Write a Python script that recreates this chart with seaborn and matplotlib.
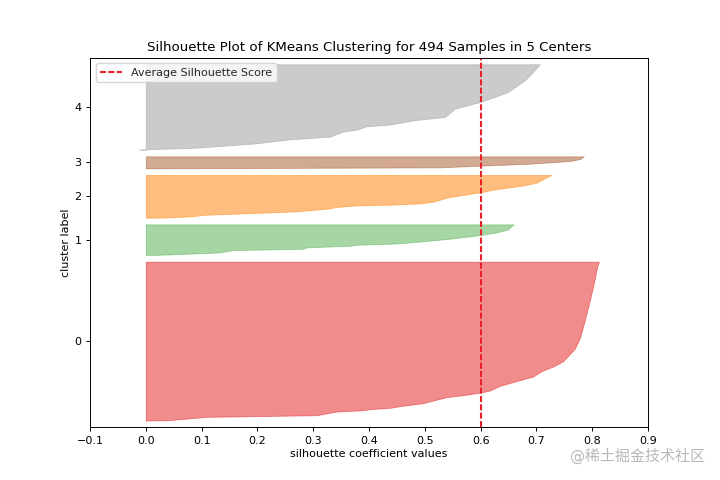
from matplotlib import pyplot as plt
import numpy as np
import seaborn as sns

# sorted silhouette outline of each cluster: rank inside the cluster -> coefficient
cluster_sizes = [238, 46, 64, 18, 128]
ranks_0 = [0, 0.5, 5.5, 8, 13.5, 15.5, 17, 19, 21.5, 26, 30, 35, 38, 42, 45, 52, 59, 66, 74, 81, 89, 108, 124, 151, 181, 206, 231, 238]
coef_0 = [0.0, 0.04, 0.109, 0.306, 0.342, 0.39, 0.401, 0.437, 0.455, 0.497, 0.515, 0.539, 0.568, 0.60, 0.617, 0.634, 0.664, 0.694, 0.709, 0.73, 0.748, 0.769, 0.778, 0.787, 0.796, 0.803, 0.809, 0.812]
ranks_1 = [0, 1, 4, 7.5, 9.5, 11.5, 14, 15.5, 17, 18.5, 24, 30, 34, 38.5, 46]
coef_1 = [0.0, 0.043, 0.133, 0.156, 0.282, 0.288, 0.366, 0.378, 0.437, 0.467, 0.539, 0.599, 0.628, 0.649, 0.659]
ranks_2 = [0, 0.5, 2, 4.5, 9.5, 14, 16, 18.5, 19.5, 21.5, 24, 30.5, 35, 38, 42.5, 47.5, 52.5, 60.5, 64]
coef_2 = [0.0, 0.043, 0.079, 0.109, 0.27, 0.33, 0.34, 0.378, 0.437, 0.491, 0.515, 0.541, 0.575, 0.599, 0.625, 0.67, 0.70, 0.718, 0.727]
ranks_3 = [0, 1.5, 4, 7, 11, 14, 18]
coef_3 = [0.0, 0.527, 0.599, 0.688, 0.76, 0.778, 0.785]
ranks_4 = [0, 0.5, 3, 9.5, 15.5, 19.5, 27, 30, 35, 37.5, 44, 49, 61.5, 71.5, 79, 86.5, 104, 116.5, 128]
coef_4 = [-0.012, 0.0, 0.091, 0.198, 0.258, 0.33, 0.353, 0.378, 0.395, 0.437, 0.479, 0.536, 0.554, 0.599, 0.625, 0.649, 0.679, 0.694, 0.706]

all_ranks = [ranks_0, ranks_1, ranks_2, ranks_3, ranks_4]
all_coef = [coef_0, coef_1, coef_2, coef_3, coef_4]
avg_score = 0.6
n_samples = 494
cluster_labels = ['0', '1', '2', '3', '4']

sns.set_theme(style='ticks', rc={'axes.grid': False})
plt.rcParams['font.family'] = ['DejaVu Sans', 'Noto Sans CJK SC']
palette = sns.color_palette('Set1', 9)
colors = [palette[0], palette[2], palette[4], palette[6], palette[8]]

fig, ax = plt.subplots(figsize=(7.2, 4.8), dpi=100)
fig.subplots_adjust(left=0.125, right=0.9, top=0.88, bottom=0.11)

y_lower = 10
tick_pos = []
for size, ranks, coef, color in zip(cluster_sizes, all_ranks, all_coef, colors):
    ys = y_lower + np.array(ranks)
    ax.fill_betweenx(ys, 0, coef, facecolor=color, edgecolor=color, linewidth=0.6, alpha=0.5)
    tick_pos.append(y_lower + 0.5 * size)
    y_lower += size + 10

sns.lineplot(x=[avg_score, avg_score], y=[0, n_samples + 60], color='#e8212a', linestyle=(0, (2.9, 1.1)),
             linewidth=1.5, label='Average Silhouette Score', estimator=None, sort=False, ax=ax)

ax.set_xlim(-0.1, 0.9)
ax.set_ylim(0, n_samples + 60)
ax.set_xticks(np.arange(-0.1, 0.91, 0.1))
ax.set_yticks(tick_pos)
ax.set_yticklabels(cluster_labels)
ax.tick_params(labelsize=8, length=3, width=0.7, pad=3, color='black', labelcolor='black')
for spine in ax.spines.values():
    spine.set_linewidth(0.7)
    spine.set_color('black')
ax.set_title('Silhouette Plot of KMeans Clustering for 494 Samples in 5 Centers', fontsize=9.6, color='black', pad=4.5)
ax.set_xlabel('silhouette coefficient values', fontsize=8, color='black', labelpad=2.7)
ax.set_ylabel('cluster label', fontsize=8, color='black', labelpad=2.2)
ax.legend(loc='upper left', fontsize=8, frameon=True)

fig.text(0.979, 0.05, '@稀土掘金技术社区', ha='right', va='center', fontsize=10.8, color='#b8b8b8')

fig.savefig('out.png', dpi=100)
